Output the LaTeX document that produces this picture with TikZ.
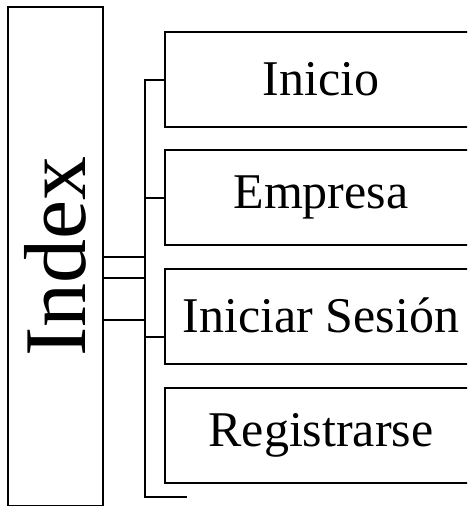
\documentclass[tikz,border=0pt]{standalone}
\usepackage{fontspec}
\setmainfont{Liberation Serif}
\begin{document}
\begin{tikzpicture}[x=1pt,y=-1pt,line width=2pt,
  menubox/.style={draw,rectangle,minimum width=312pt,minimum height=95pt,inner sep=0pt,
    font=\fontsize{50}{58}\selectfont},
  mainbox/.style={draw,rectangle,minimum width=95pt,minimum height=499pt,inner sep=0pt,
    font=\fontsize{88}{96}\selectfont}]
\useasboundingbox (0,0) rectangle (467,506);
\begin{scope}
\clip (0,0) rectangle (467,506);
\node[mainbox] (index) at (55.5,256.5) {\rotatebox{90}{Index}};
\node[menubox] (inicio) at (321,79.5) {\raisebox{2pt}{Inicio}};
\node[menubox] (empresa) at (321,197.5) {\raisebox{2pt}{Empresa}};
\node[menubox] (iniciar) at (321,316) {\raisebox{2pt}{Iniciar Sesión}};
\node[menubox] (registrarse) at (321,435.5) {\raisebox{2pt}{Registrarse}};
\coordinate (btop) at (145,79.5);
\coordinate (bbot) at (145,497);
\coordinate (bend) at (187,497);
\coordinate (b3) at (145,337);
\coordinate (i2) at (103,278);
\coordinate (i3) at (103,320);
\draw (inicio.west) -- (btop) -- (bbot) -- (bend);
\draw (btop |- empresa.west) -- (empresa.west);
\draw (b3) -- (b3 -| iniciar.west);
\draw (index.east) -- (index.east -| btop);
\draw (i2) -- (i2 -| btop);
\draw (i3) -- (i3 -| btop);
\end{scope}
\end{tikzpicture}
\end{document}
